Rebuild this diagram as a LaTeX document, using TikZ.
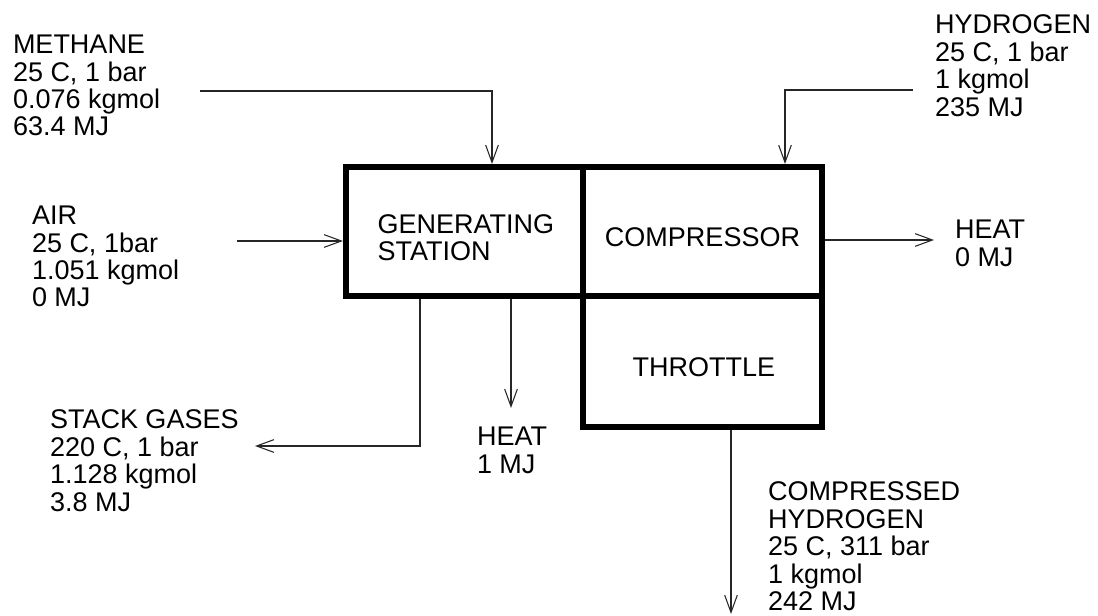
\documentclass[tikz,border=0pt]{standalone}
\usepackage{fontspec}
\setmainfont{Liberation Sans}
\usetikzlibrary{arrows.meta}
\begin{document}
\begin{tikzpicture}[x=0.75pt,y=-0.75pt,
  txt/.style={inner sep=0pt, outer sep=0pt, align=left,
    font=\fontsize{20.25pt}{20.6pt}\selectfont},
  lbl/.style={txt, anchor=north west},
  unit/.style={draw=black, line width=4.5pt, rectangle, inner sep=0pt},
  flow/.style={draw=black!85, line width=0.8pt,
    -{Straight Barb[length=13pt,width=9.5pt,line width=0.8pt]}}]
\useasboundingbox (0,0) rectangle (1098,616);
% units
\node[unit, minimum width=177.75pt, minimum height=96.75pt] (gen) at (464.5,231.5) {};
\node[unit, minimum width=179.25pt, minimum height=96.75pt] (comp) at (702.5,231.5) {};
\node[unit, minimum width=179.25pt, minimum height=97.9pt] (thr) at (702.5,361.25) {};
\node[txt, yshift=-4.5pt, xshift=1pt] (gentxt) at (gen.center) {GENERATING\\STATION};
\node[txt, yshift=-4.5pt] (comptxt) at (comp.center) {COMPRESSOR};
\node[txt, yshift=-4.5pt, xshift=1pt] (thrtxt) at (thr.center) {THROTTLE};
% labels
\node[lbl] (methane) at (13,35) {METHANE\\25 C, 1 bar\\0.076 kgmol\\63.4 MJ};
\node[lbl] (air) at (32,206) {AIR\\25 C, 1bar\\1.051 kgmol\\0 MJ};
\node[lbl] (hyd) at (935,15) {HYDROGEN\\25 C, 1 bar\\1 kgmol\\235 MJ};
\node[lbl] (heat0) at (955,220) {HEAT\\0 MJ};
\node[lbl] (stack) at (50,410) {STACK GASES\\220 C, 1 bar\\1.128 kgmol\\3.8 MJ};
\node[lbl] (heat1) at (477,427) {HEAT\\1 MJ};
\node[lbl] (chyd) at (768,482) {COMPRESSED\\HYDROGEN\\25 C, 311 bar\\1 kgmol\\242 MJ};
% connector points
\coordinate (mstart) at (200,91);
\coordinate (mturn) at (492,91);
\coordinate (hstart) at (913,90);
\coordinate (hturn) at (785,90);
\coordinate (astart) at (237,241);
\coordinate (h0end) at (934,240);
\coordinate (sturn) at (420,446);
\coordinate (send) at (255,446);
\coordinate (h1end) at (511,408);
\coordinate (chend) at (731,614);
% connectors
\draw[flow] (mstart) -- (mturn) -- (mturn |- gen.north);
\draw[flow] (hstart) -- (hturn) -- (hturn |- comp.north);
\draw[flow] (astart) -- (astart -| gen.west);
\draw[flow] (h0end -| comp.east) -- (h0end);
\draw[flow] (sturn |- gen.south) -- (sturn) -- (send);
\draw[flow] (h1end |- gen.south) -- (h1end);
\draw[flow] (chend |- thr.south) -- (chend);
\end{tikzpicture}
\end{document}
